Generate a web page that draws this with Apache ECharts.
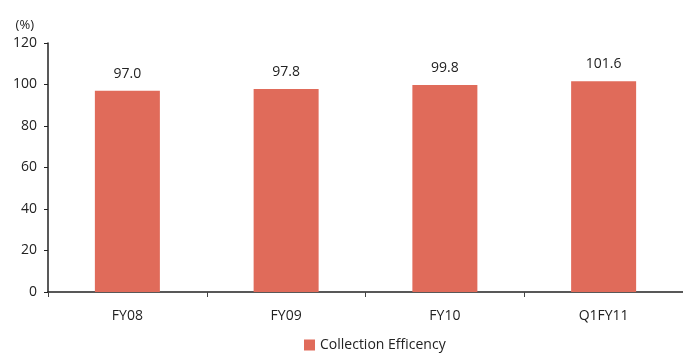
<!DOCTYPE html>
<html><head><meta charset="utf-8">
<script src="https://cdn.jsdelivr.net/npm/echarts@6/dist/echarts.min.js"></script>
<style>html,body{margin:0;padding:0;background:#fff}#c{width:683px;height:354px}</style>
</head><body><div id="c"></div>
<script>
const categories = ['FY08', 'FY09', 'FY10', 'Q1FY11'];
const values = [97.0, 97.8, 99.8, 101.6];
const seriesName = 'Collection Efficency';
const yMin = 0, yMax = 120, yInterval = 20;

const FONT = '"Open Sans", "Noto Sans", sans-serif';
const chart = echarts.init(document.getElementById('c'), null, {renderer: 'canvas'});
chart.setOption({
  animation: false,
  textStyle: {fontFamily: FONT},
  grid: {left: 48, right: 0, top: 43, bottom: 62, containLabel: false},
  legend: {
    data: [seriesName], top: 333, left: 299,
    itemWidth: 11, itemHeight: 11, itemGap: 6,
    icon: 'rect',
    textStyle: {fontFamily: FONT, fontSize: 14, color: '#222'}
  },
  xAxis: {
    type: 'category', data: categories,
    axisLine: {lineStyle: {color: '#222', width: 1.5}},
    axisTick: {show: true, length: 5, alignWithLabel: false, lineStyle: {color: '#444'}},
    axisLabel: {fontFamily: FONT, fontSize: 14, color: '#222', margin: 17}
  },
  yAxis: {
    type: 'value', min: yMin, max: yMax, interval: yInterval,
    name: '(%)', nameLocation: 'end', nameGap: 11,
    nameTextStyle: {fontFamily: FONT, fontSize: 13, color: '#222', align: 'right', padding: [0, 14, 0, 0]},
    axisLine: {show: true, lineStyle: {color: '#222', width: 1.5}},
    axisTick: {show: true, length: 4, lineStyle: {color: '#222'}},
    splitLine: {show: false},
    axisLabel: {fontFamily: FONT, fontSize: 14, color: '#222', margin: 11}
  },
  series: [{
    name: seriesName, type: 'bar', data: values, barWidth: 65,
    itemStyle: {color: '#e06b5a'},
    label: {show: true, position: 'top', distance: 10, fontFamily: FONT, fontSize: 14, color: '#222',
      formatter: p => p.value.toFixed(1)}
  }]
});
</script></body></html>
